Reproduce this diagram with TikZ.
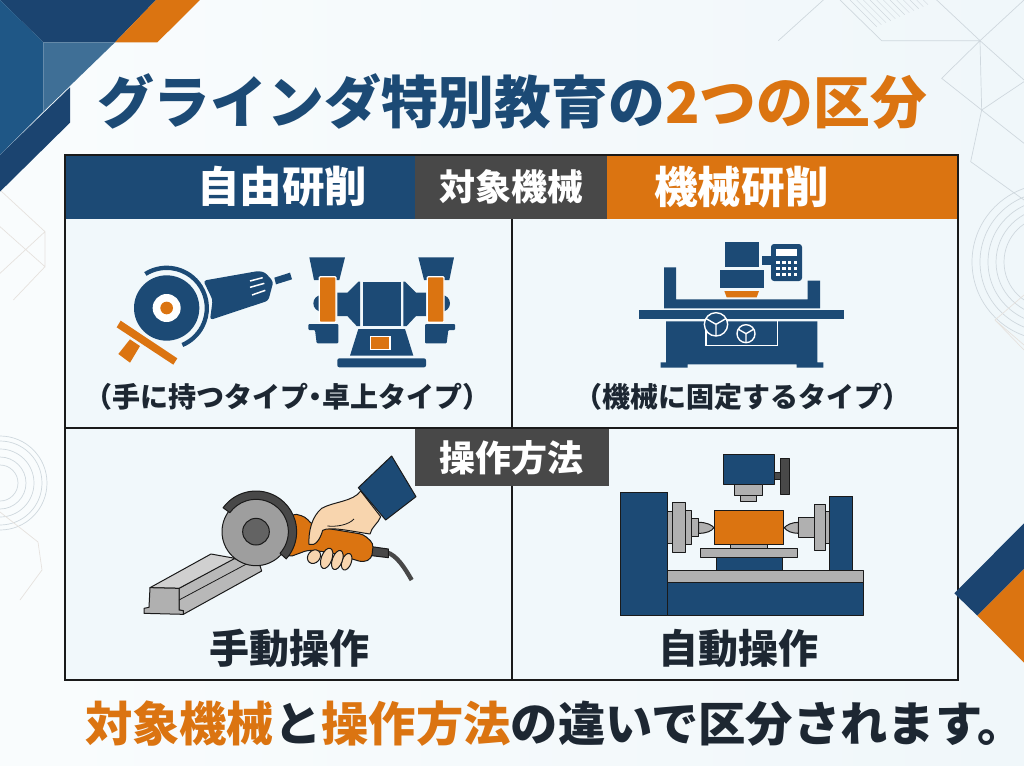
\documentclass[tikz,border=0pt]{standalone}
\usepackage{fontspec}
\usetikzlibrary{calc}
\setmainfont{Noto Sans CJK JP}
\definecolor{navy}{HTML}{1C4A75}
\definecolor{navyd}{HTML}{1B4470}
\definecolor{navym}{HTML}{1F5786}
\definecolor{navyl}{HTML}{3F6F96}
\definecolor{ora}{HTML}{DB7411}
\definecolor{greybox}{HTML}{484848}
\definecolor{ink}{HTML}{1A1A1A}
\definecolor{tink}{HTML}{1D2732}
\definecolor{steel}{HTML}{B0B0B0}
\definecolor{skin}{HTML}{F8D5AE}
\definecolor{cell}{HTML}{F1F8FB}
\definecolor{deco}{HTML}{CFD8DE}
\definecolor{decob}{HTML}{E6E2DE}
\tikzset{
  fs/.style={font=\fontsize{#1}{#1}\selectfont\bfseries,inner sep=0pt},
  headbox/.style={fill=#1,draw=none},
  decoline/.style={draw=deco,line width=0.7pt},
  decofaint/.style={draw=decob,line width=0.7pt},
  part/.style={fill=#1,draw=ink,line width=1pt,line join=round},
  wl/.style={draw=white,line width=1.4pt},
  icon/.style={fill=navy},
  zoomed/.style={x=0.33333pt,y=-0.33333pt}
}
\begin{document}
\begin{tikzpicture}[x=1pt,y=-1pt]
\useasboundingbox (0,0) rectangle (1024,765);
\begin{scope}
\clip (0,0) rectangle (1024,765);
\shade[left color=white!60!cell,right color=cell!85!black!3!cell] (0,0) rectangle (1024,765);
% decorative lines top right
\begin{scope}[shift={(760,0)},zoomed]
  \path[decoline] (55,122)--(190,0) (240,0)--(365,122)--(660,122)--(530,0) (660,122)--(792,0)
    (660,122)--(545,235)--(665,330)--cycle (660,122)--(792,240) (665,330)--(792,245)
    (665,330)--(632,485)--(792,600) (665,330)--(792,430);
  \foreach \k in {0,...,11}{\path[draw=deco,line width=0.4pt] (270+\k*20,0)--(350+\k*14,80-\k*6);}
\end{scope}
\foreach \r in {46,54,62,70,78}{\draw[decoline] (1050,262) circle (\r);}
\path[decofaint] (1024,295)--(995,320)--(1024,345) (995,320)--(1024,350);
% decorative lines left
\foreach \r in {18,26,34,42,47}{\draw[decoline] (0,483) circle (\r);}
\path[decofaint] (0,512)--(38,542)--(42,570)--(20,600);
\begin{scope}[zoomed]
  \path[decofaint] (0,570)--(135,695)--(135,800)--(0,680) (135,695)--(0,820) (135,800)--(40,900);
\end{scope}
% corner shapes
\begin{scope}[zoomed]
  \fill[navyd] (0,0)--(468,0)--(345,127)--(130,127)--cycle;
  \fill[navym] (0,0)--(130,127)--(130,335)--(0,465)--cycle;
  \fill[navyl] (130,127)--(345,127)--(130,335)--cycle;
  \fill[navyd] (0,465)--(210,262)--(210,368)--(0,575)--cycle;
  \fill[ora] (468,0)--(600,0)--(472,127)--(345,127)--cycle;
\end{scope}
\end{scope}
% title
\node[fs=56.8,anchor=center] (title) at (512,101) {\textcolor{navy}{グラインダ特別教育の}\textcolor{ora}{2つの区分}};
% table
\fill[cell] (65,155) rectangle (958,680);
\node[headbox=navy,minimum width=350pt,minimum height=64pt,inner sep=0pt,anchor=north west] (hl) at (65,155) {};
\node[headbox=greybox,minimum width=192pt,minimum height=64pt,inner sep=0pt,anchor=north west] (hm) at (415,155) {};
\node[headbox=ora,minimum width=351pt,minimum height=64pt,inner sep=0pt,anchor=north west] (hr) at (607,155) {};
\draw[ink,line width=2.4pt] (65,155) rectangle (958,680);
\draw[ink,line width=2pt] (512,219) -- (512,680) (65,428) -- (958,428);
\node[headbox=greybox,minimum width=194pt,minimum height=57pt,inner sep=0pt,anchor=north west] (ho) at (415,429) {};
\node[fs=42.5,white] (t1) at (282,187) {自由研削};
\node[fs=43.6,white] (t2) at (741.5,187) {機械研削};
\node[fs=36,white] (t3) at (511.5,187) {対象機械};
\node[fs=36,white] (t4) at (511.5,458) {操作方法};
\node[fs=28,tink] (c1) at (287,397) {（手に持つタイプ\hspace{-0.25em}・\hspace{-0.25em}卓上タイプ）};
\node[fs=28,tink] (c2) at (742,397) {（機械に固定するタイプ）};
\node[fs=40,tink] (c3) at (289,648) {手動操作};
\node[fs=40,tink] (c4) at (738.5,648) {自動操作};
% bottom line
\node[fs=47.3,tink] (foot) at (555,724) {\textcolor{ora}{対象機械}と\textcolor{ora}{操作方法}の違いで区分されます。};
% bottom right shapes
\begin{scope}[shift={(900,500)},zoomed]
  \fill[navyd] (163,280)--(372,70)--(372,207)--(232,347)--cycle;
  \fill[ora] (232,347)--(372,207)--(372,488)--cycle;
\end{scope}
% angle grinder
\begin{scope}[shift={(100,230)},zoomed]
  \fill[ora] (62,272)--(232,385)--(220,404)--(50,292)--cycle;
  \fill[ora] (90,328)--(120,348)--(90,398)--(55,372)--cycle;
  \fill[icon,rounded corners=3pt] (310,152)--(475,123)--(495,127)--(520,155)--(505,212)--(330,270)--(338,210)--cycle;
  \fill[icon] (523,143)--(570,128)--(576,148)--(528,163)--cycle;
  \draw[white,line width=1.5pt] (450,153)--(488,143) (450,172)--(493,160) (456,195)--(496,181);
  \fill[icon] (200,234) circle (98);
  \fill[white] (200,234) circle (42);
  \fill[ora] (200,234) circle (19);
  \fill[icon] ($(200,234)+(238:127)$) arc[start angle=238,end angle=427,radius=127] -- ($(200,234)+(427:114)$) arc[start angle=427,end angle=238,radius=114] -- cycle;
\end{scope}
% bench grinder
\begin{scope}[shift={(100,230)},zoomed]
  \foreach \s/\o in {1/0,-1/-1690}{
  \begin{scope}[xscale=\s,xshift=\o*0.33333pt]
    \fill[icon] (628,82)--(735,82)--(718,150)--(642,150)--cycle;
    \fill[icon] (665,220) circle (25);
    \fill[icon,rounded corners=1pt] (625,282)--(715,282)--(715,340)--(650,340)--(645,300)--(625,300)--cycle;
    \fill[icon] (712,188)--(742,188)--(775,155)--(780,155)--(780,288)--(770,288)--(742,258)--(712,258)--cycle;
    \fill[ora,draw=white,line width=1.2pt,rounded corners=1pt] (658,140) rectangle (708,277);
  \end{scope}}
  \fill[icon] (788,155) rectangle (902,288);
  \fill[icon] (775,297)--(915,297)--(940,377)--(750,377)--cycle;
  \fill[ora,draw=white,line width=1.2pt] (812,320) rectangle (870,358);
  \fill[icon,rounded corners=2pt] (712,385) rectangle (978,412);
\end{scope}
% surface grinder
\begin{scope}[shift={(620,230)},zoomed]
  \fill[icon] (315,35) rectangle (417,112);
  \fill[icon] (300,120) rectangle (433,175);
  \fill[ora] (313,183)--(417,183)--(410,202)--(320,202)--cycle;
  \fill[icon] (425,78) rectangle (460,105);
  \fill[icon,rounded corners=3pt] (453,42) rectangle (546,153);
  \fill[white] (468,57) rectangle (532,78);
  \foreach \i in {0,1,2,3}{\foreach \j in {0,1,2}{\fill[white] (469+\i*17.5,92+\j*18) rectangle ++(10,10);}}
  \fill[icon] (132,112)--(168,112)--(168,208)--(563,208)--(563,152)--(600,152)--(600,235)--(132,235)--cycle;
  \fill[icon] (58,241) rectangle (673,268);
  \fill[icon] (138,274)--(592,274)--(592,397)--(610,397)--(610,413)--(530,413)--(530,403)--(203,403)--(203,413)--(122,413)--(122,397)--(138,397)--cycle;
  \draw[wl] (258,272) -- (258,347) -- (472,347) -- (472,272);
  \foreach \cx/\cy/\r in {288/283/35,378/311/27}{
    \fill[icon] (\cx,\cy) circle (\r);
    \draw[wl] (\cx,\cy) circle (\r);
    \draw[wl] (\cx,\cy) -- +(90:\r) (\cx,\cy) -- +(-30:\r) (\cx,\cy) -- +(210:\r);
  }
\end{scope}
% hand grinder scene
\begin{scope}[shift={(130,445)},zoomed]
  \path[part=steel!90!white] (147,430)--(310,340)--(390,362)--(395,378)--(160,508)--(160,497)--(147,495)--cycle;
  \path[part=steel!60!white] (60,428)--(243,327)--(315,340)--(147,430)--cycle;
  \path[part=steel] (60,428)--(147,430)--(147,495)--(160,497)--(160,508)--(42,505)--(42,490)--(57,487)--cycle;
  \draw[ink,line width=0.8pt] (147,465)--(372,345);
  % cable
  \draw[ink!80!white,line width=4.4pt] (770,322) .. controls (800,330) and (825,370) .. (845,405);
  \path[part=greybox] (725,305)--(775,312)--(775,338)--(725,332)--cycle;
  % handle
  \path[part=ora,rounded corners=4pt] (488,205)--(525,215)--(548,240)--(590,250)--(700,268)--(730,295)--(725,340)--(700,352)--(600,322)--(535,315)--(475,337)--cycle;
  % fingers
  \foreach \cx/\cy/\a/\rx/\ry in {650/350/70/26/14,622/345/70/30/15,590/340/70/32/16,552/335/50/22/18}{
    \path[part=skin,rotate around={\a:(\cx,\cy)}] (\cx,\cy) ellipse (\rx*1 and \ry*1);
  }
  % hand
  \path[part=skin] (692,138) .. controls (670,170) and (610,170) .. (575,190) .. controls (545,215) and (535,260) .. (537,298) .. controls (555,305) and (570,285) .. (578,256) .. controls (600,244) and (660,258) .. (720,267) .. controls (725,245) and (745,235) .. (752,215) -- cycle;
  \draw[ink,line width=0.8pt] (592,243) .. controls (620,246) and (655,240) .. (672,222);
  % sleeve
  \path[part=navy] (685,128)--(785,33)--(858,155)--(767,225)--cycle;
  % disc
  \path[part=steel!90!black] (378,260) circle (102);
  \path[part=greybox!85!white] (378,260) circle (40);
  \path[part=greybox] ($(378,260)+(216:122)$) arc[start angle=216,end angle=402,radius=122] -- ($(378,260)+(402:97)$) arc[start angle=402,end angle=216,radius=97] -- cycle;
\end{scope}
% cylindrical grinder
\begin{scope}[shift={(610,445)},zoomed]
  \path[part=navy] (173,413) rectangle (760,512);
  \path[part=navy] (30,141) rectangle (173,512);
  \path[part=navy] (657,153) rectangle (728,375);
  \path[part=navy] (318,335) rectangle (516,375);
  \path[part=steel] (173,375) rectangle (760,413);
  \path[part=steel] (270,310) rectangle (563,336);
  \path[part=steel] (362,298) rectangle (472,310);
  \path[part=ora] (312,195) rectangle (521,299);
  \path[part=steel] (173,200) rectangle (190,295);
  \path[part=steel] (188,173) rectangle (225,321);
  \path[part=steel] (225,196) rectangle (243,298);
  \path[part=steel] (243,220) rectangle (266,275);
  \path[part=steel] (266,232) .. controls (290,232) and (305,240) .. (312,248) .. controls (305,258) and (290,265) .. (266,265) -- cycle;
  \path[part=steel] (645,200) rectangle (657,295);
  \path[part=steel] (612,179) rectangle (645,316);
  \path[part=steel] (565,218) rectangle (612,276);
  \path[part=steel] (565,232) .. controls (545,232) and (530,240) .. (523,248) .. controls (530,258) and (545,265) .. (565,265) -- cycle;
  \path[part=navy] (340,29) rectangle (492,118);
  \path[part=steel] (373,118) rectangle (458,152);
  \path[part=steel] (392,152) rectangle (440,170);
  \path[part=greybox] (492,82) rectangle (511,102);
  \path[part=greybox] (511,40) rectangle (537,148);
\end{scope}
\end{tikzpicture}
\end{document}
